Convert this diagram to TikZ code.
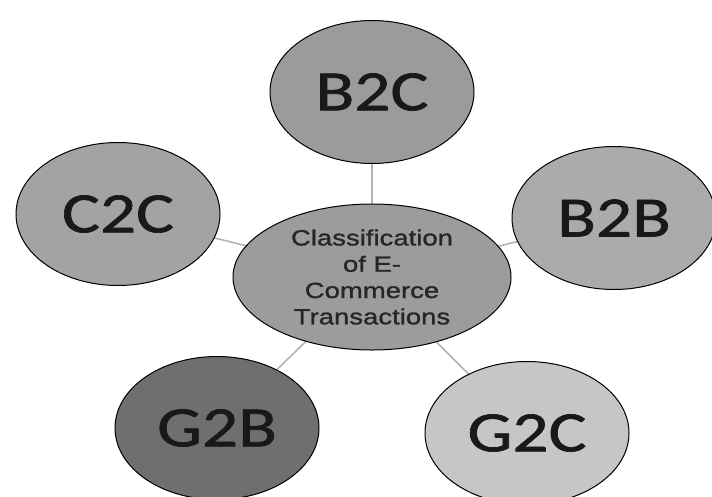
\documentclass[tikz,border=0pt]{standalone}
\usepackage{fontspec}
\usetikzlibrary{shapes.geometric}
\newfontfamily\outerfont[FakeStretch=1.25,FakeBold=1.2]{Carlito}
\newfontfamily\innerfont[FakeStretch=1.25,FakeBold=1.2]{Liberation Sans}
\definecolor{fillA}{HTML}{9B9B9B}
\definecolor{fillB}{HTML}{A3A3A3}
\definecolor{fillC}{HTML}{ABABAB}
\definecolor{fillD}{HTML}{6F6F6F}
\definecolor{fillE}{HTML}{C6C6C6}
\definecolor{fillM}{HTML}{9C9C9C}
\definecolor{linkgray}{HTML}{B4B4B4}
\tikzset{
  outerbubble/.style={ellipse, draw=black, line width=1pt, minimum width=204pt, minimum height=143pt, inner sep=0pt,
    font=\outerfont\fontsize{57}{60}\selectfont, text=black!90},
  centerbubble/.style={ellipse, draw=black, line width=1pt, fill=fillM, minimum width=278pt, minimum height=146pt, inner sep=0pt,
    align=center, font=\innerfont\fontsize{22}{26.3}\selectfont, text=black!85},
  link/.style={draw=linkgray, line width=1.6pt}
}
\begin{document}
\begin{tikzpicture}[x=1pt,y=-1pt]
\useasboundingbox (0,0) rectangle (712,496);
\clip (0,0) rectangle (712,496);
\fill[white] (0,0) rectangle (712,496);
\coordinate (cM) at (372,277);
\coordinate (cB2C) at (372,92);
\coordinate (cC2C) at (118,214);
\coordinate (cB2B) at (614,218);
\coordinate (cG2B) at (217,428);
\coordinate (cG2C) at (527,433);
\draw[link] (cM) -- (cB2C);
\draw[link] (cM) -- (cC2C);
\draw[link] (cM) -- (cB2B);
\draw[link] (cM) -- (cG2B);
\draw[link] (cM) -- (cG2C);
\node[outerbubble, fill=fillA] (b2c) at (cB2C) {B2C};
\node[outerbubble, fill=fillB] (c2c) at (cC2C) {C2C};
\node[outerbubble, fill=fillC] (b2b) at (cB2B) {B2B};
\node[outerbubble, fill=fillD] (g2b) at (cG2B) {G2B};
\node[outerbubble, fill=fillE] (g2c) at (cG2C) {G2C};
\node[centerbubble] (m) at (cM) {Classification\\of E-\\Commerce\\Transactions};
\end{tikzpicture}
\end{document}
